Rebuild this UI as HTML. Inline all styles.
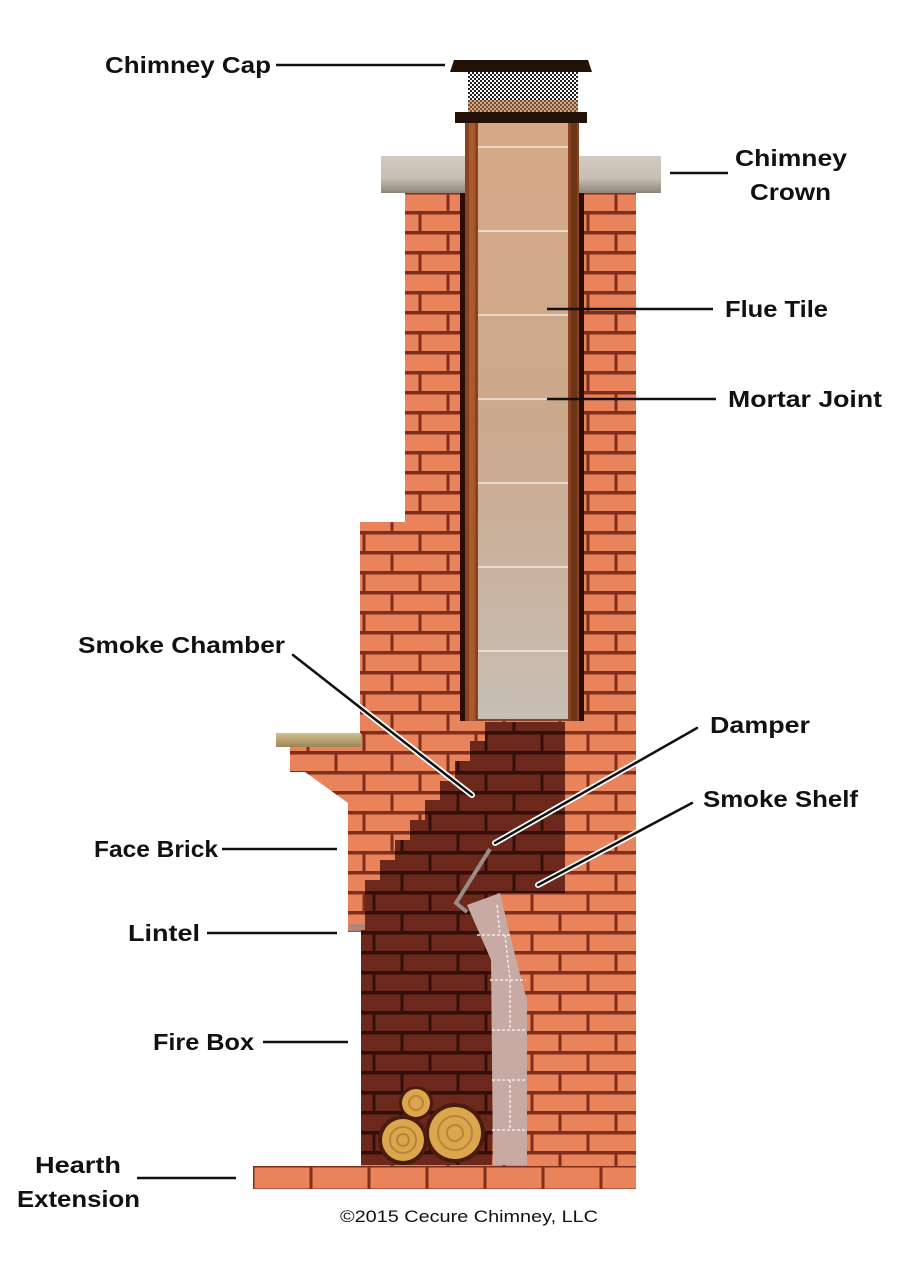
<!DOCTYPE html>
<html><head><meta charset="utf-8"><style>
html,body{margin:0;padding:0;background:#fff;}
svg{display:block;}
text{font-family:"Liberation Sans",sans-serif;font-weight:bold;fill:#111;}
</style></head><body>
<svg width="904" height="1264" viewBox="0 0 904 1264" xmlns="http://www.w3.org/2000/svg">
<defs>
<pattern id="lb" patternUnits="userSpaceOnUse" x="0" y="193" width="56" height="40">
<rect width="56" height="40" fill="#7e2e1a"/>
<rect x="1.5" y="1.5" width="53" height="16.5" fill="#e9835c"/>
<rect x="-26.5" y="21.5" width="53" height="16.5" fill="#e9835c"/>
<rect x="29.5" y="21.5" width="53" height="16.5" fill="#e9835c"/>
</pattern>
<pattern id="db" patternUnits="userSpaceOnUse" x="10" y="193" width="56" height="40">
<rect width="56" height="40" fill="#3a120a"/>
<rect x="1.5" y="1.5" width="53" height="16.5" fill="#7e3020"/>
<rect x="-26.5" y="21.5" width="53" height="16.5" fill="#7e3020"/>
<rect x="29.5" y="21.5" width="53" height="16.5" fill="#7e3020"/>
</pattern>
<pattern id="hb" patternUnits="userSpaceOnUse" x="253" y="1166" width="58" height="24">
<rect width="58" height="24" fill="#7e2e1a"/>
<rect x="1.5" y="1.5" width="55" height="21" fill="#e8835c"/>
</pattern>
<pattern id="mesh" patternUnits="userSpaceOnUse" width="4" height="4">
<rect width="4" height="4" fill="#fff"/><rect width="2" height="2" fill="#222"/><rect x="2" y="2" width="2" height="2" fill="#222"/>
</pattern>
<linearGradient id="crown" x1="0" y1="0" x2="0" y2="1"><stop offset="0" stop-color="#d2cac0"/><stop offset="0.6" stop-color="#c8bfb4"/><stop offset="1" stop-color="#8e847a"/></linearGradient>
<linearGradient id="flue" x1="0" y1="0" x2="0" y2="1"><stop offset="0" stop-color="#d6a886"/><stop offset="0.5" stop-color="#cba88c"/><stop offset="1" stop-color="#c7beb4"/></linearGradient>
<linearGradient id="shelf" x1="0" y1="0" x2="0" y2="1"><stop offset="0" stop-color="#d4c08e"/><stop offset="1" stop-color="#9c8657"/></linearGradient>
</defs>

<polygon fill="url(#lb)" points="405,193 636,193 636,1166 361,1166 361,932 348,932 348,803 305,772 290,772 290,747 360,747 360,522 405,522"/>
<rect x="253" y="1166" width="383" height="23" fill="url(#hb)"/>
<rect x="276" y="733" width="85" height="14" fill="url(#shelf)"/>
<path d="M349,926 L373,926 L373,910 M349,930 L374,930" stroke="#9a8a86" stroke-width="3" fill="none"/>

<polygon fill="url(#db)" points="485,722 565,722 565,893 497,893 492,1165 361,1165 361,930 365,930 365,880 380,880 380,860 395,860 395,840 410,840 410,820 425,820 425,800 440,800 440,781 455,781 455,761 470,761 470,741 485,741"/>
<polygon fill="#000" opacity="0.15" points="485,722 565,722 565,893 497,893 492,1165 361,1165 361,930 365,930 365,880 380,880 380,860 395,860 395,840 410,840 410,820 425,820 425,800 440,800 440,781 455,781 455,761 470,761 470,741 485,741"/>

<circle cx="455" cy="1133" r="30" fill="#4a1c0e"/>
<circle cx="403" cy="1140" r="25" fill="#4a1c0e"/>
<circle cx="416" cy="1103" r="17" fill="#4a1c0e"/>
<circle cx="455" cy="1133" r="26" fill="#dba64c"/>
<circle cx="455" cy="1133" r="17" fill="none" stroke="#b9843a" stroke-width="2"/>
<circle cx="455" cy="1133" r="8" fill="none" stroke="#b9843a" stroke-width="2"/>
<circle cx="403" cy="1140" r="21" fill="#dba64c"/>
<circle cx="403" cy="1140" r="13" fill="none" stroke="#b9843a" stroke-width="2"/>
<circle cx="403" cy="1140" r="6" fill="none" stroke="#b9843a" stroke-width="2"/>
<circle cx="416" cy="1103" r="14" fill="#dba64c"/>
<circle cx="416" cy="1103" r="7" fill="none" stroke="#b9843a" stroke-width="2"/>

<polygon fill="#c7aaa3" points="467,905 500,893 515,955 527,1000 527,1165 493,1165 491,960"/>
<path d="M477,935 L512,935 M490,980 L526,980 M492,1030 L527,1030 M492,1080 L527,1080 M492,1130 L527,1130 M497,905 L500,935 M505,935 L510,980 M510,980 L510,1030 M510,1080 L510,1130" stroke="#f2e9e6" stroke-width="1.5" fill="none" stroke-dasharray="3,2"/>
<path d="M490,849 L456,903 L467,912" stroke="#9b8a86" stroke-width="4" fill="none"/>

<rect x="460" y="193" width="124" height="528" fill="#2a0e06"/>
<rect x="465" y="122" width="114" height="599" fill="#8a4320"/>
<rect x="469" y="122" width="6" height="599" fill="#a85a2c"/>
<rect x="571" y="122" width="6" height="599" fill="#6e3418"/>
<rect x="478" y="122" width="90" height="597" fill="url(#flue)"/>
<g stroke="#f1e8e0" stroke-width="1.5">
<line x1="478" y1="147" x2="568" y2="147"/><line x1="478" y1="231" x2="568" y2="231"/>
<line x1="478" y1="315" x2="568" y2="315"/><line x1="478" y1="399" x2="568" y2="399"/>
<line x1="478" y1="483" x2="568" y2="483"/><line x1="478" y1="567" x2="568" y2="567"/>
<line x1="478" y1="651" x2="568" y2="651"/>
</g>
<rect x="381" y="156" width="84" height="37" fill="url(#crown)"/>
<rect x="579" y="156" width="82" height="37" fill="url(#crown)"/>
<rect x="468" y="72" width="110" height="40" fill="url(#mesh)"/>
<rect x="468" y="100" width="110" height="12" fill="#b06a3a" opacity="0.6"/>
<polygon points="454,60 588,60 592,72 450,72" fill="#231208"/>
<rect x="455" y="112" width="132" height="11" fill="#231208"/>

<g stroke="#111" stroke-width="2.5">
<line x1="276" y1="65" x2="445" y2="65"/>
<line x1="670" y1="173" x2="728" y2="173"/>
<line x1="547" y1="309" x2="713" y2="309"/>
<line x1="547" y1="399" x2="716" y2="399"/>
<line x1="222" y1="849" x2="337" y2="849"/>
<line x1="207" y1="933" x2="337" y2="933"/>
<line x1="263" y1="1042" x2="348" y2="1042"/>
<line x1="137" y1="1178" x2="236" y2="1178"/>
</g>
<g stroke-linecap="round">
<line x1="293" y1="655" x2="472" y2="795" stroke="#fff" stroke-width="6"/>
<line x1="293" y1="655" x2="472" y2="795" stroke="#111" stroke-width="2.5"/>
<line x1="697" y1="728" x2="495" y2="843" stroke="#fff" stroke-width="6"/>
<line x1="697" y1="728" x2="495" y2="843" stroke="#111" stroke-width="2.5"/>
<line x1="692" y1="803" x2="538" y2="885" stroke="#fff" stroke-width="6"/>
<line x1="692" y1="803" x2="538" y2="885" stroke="#111" stroke-width="2.5"/>
</g>

<g font-size="23">
<text x="105" y="73" textLength="166" lengthAdjust="spacingAndGlyphs">Chimney Cap</text>
<text x="735" y="166" textLength="112" lengthAdjust="spacingAndGlyphs">Chimney</text>
<text x="750" y="200" textLength="81" lengthAdjust="spacingAndGlyphs">Crown</text>
<text x="725" y="317" textLength="103" lengthAdjust="spacingAndGlyphs">Flue Tile</text>
<text x="728" y="407" textLength="154" lengthAdjust="spacingAndGlyphs">Mortar Joint</text>
<text x="78" y="653" textLength="207" lengthAdjust="spacingAndGlyphs">Smoke Chamber</text>
<text x="710" y="733" textLength="100" lengthAdjust="spacingAndGlyphs">Damper</text>
<text x="703" y="807" textLength="155" lengthAdjust="spacingAndGlyphs">Smoke Shelf</text>
<text x="94" y="857" textLength="124" lengthAdjust="spacingAndGlyphs">Face Brick</text>
<text x="128" y="941" textLength="72" lengthAdjust="spacingAndGlyphs">Lintel</text>
<text x="153" y="1050" textLength="101" lengthAdjust="spacingAndGlyphs">Fire Box</text>
<text x="35" y="1173" textLength="86" lengthAdjust="spacingAndGlyphs">Hearth</text>
<text x="17" y="1207" textLength="123" lengthAdjust="spacingAndGlyphs">Extension</text>
</g>
<text x="340" y="1222" font-size="17" textLength="258" lengthAdjust="spacingAndGlyphs" style="font-weight:normal">©2015 Cecure Chimney, LLC</text>
</svg>
</body></html>
